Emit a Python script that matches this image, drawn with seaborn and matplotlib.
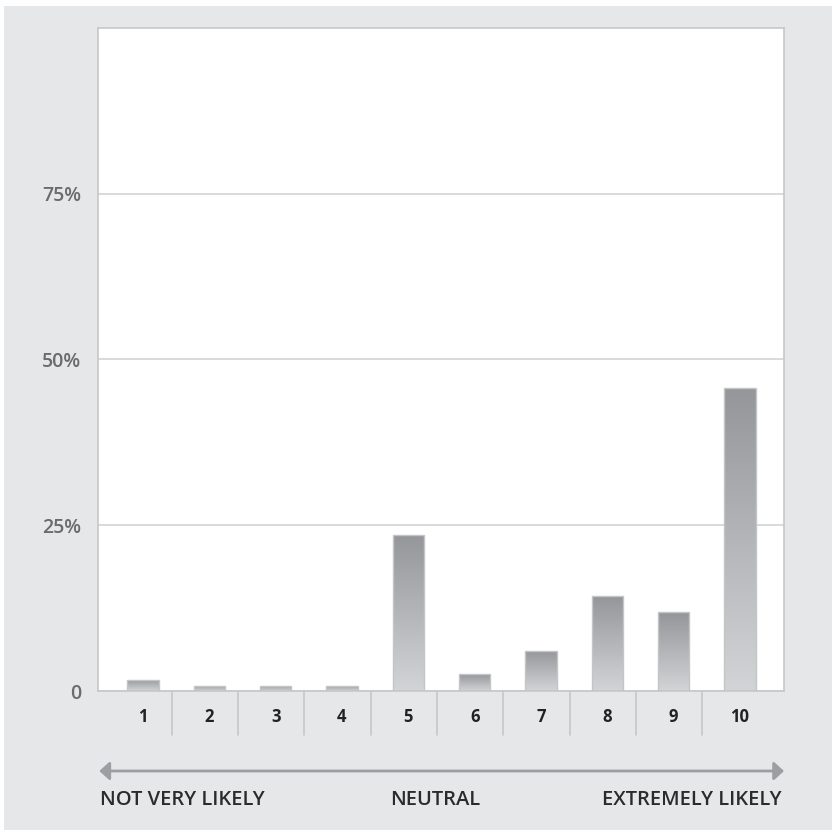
import numpy as np
import pandas as pd
import matplotlib
matplotlib.use("Agg")
import matplotlib.pyplot as plt
from matplotlib.colors import LinearSegmentedColormap
from matplotlib.patches import Rectangle
import seaborn as sns

# ---- data ----
categories = ["1", "2", "3", "4", "5", "6", "7", "8", "9", "10"]
percentages = [1.7, 0.8, 0.8, 0.8, 23.6, 2.5, 6.1, 14.3, 11.9, 45.7]
y_ticks = [0, 25, 50, 75]
y_tick_labels = ["0", "25%", "50%", "75%"]
scale_labels = ["NOT VERY LIKELY", "NEUTRAL", "EXTREMELY LIKELY"]

df = pd.DataFrame({"score": categories, "pct": percentages})

sns.set_theme(style="white")
plt.rcParams["font.family"] = ["Open Sans", "DejaVu Sans"]

W, H = 832, 830
fig = plt.figure(figsize=(W / 100, H / 100), dpi=100, facecolor="white")
fig.patches.append(Rectangle((4 / W, 0), 1, 1 - 6 / H, transform=fig.transFigure,
                             facecolor="#e6e7e9", edgecolor="none", zorder=-10))

ax = fig.add_axes([98 / W, (H - 691) / H, 686 / W, 663 / H])
ax.set_facecolor("white")

sns.barplot(data=df, x="score", y="pct", ax=ax, width=0.47, color="#a0a1a4",
            edgecolor="#c4c5c7", linewidth=1.0, zorder=3)

# gradient fill inside each bar
cmap = LinearSegmentedColormap.from_list("g", ["#d3d4d6", "#95969a"])
grad = np.linspace(0, 1, 256).reshape(-1, 1)
for p in ax.patches:
    x0, y0 = p.get_x(), p.get_y()
    w, h = p.get_width(), p.get_height()
    p.set_facecolor("none")
    im = ax.imshow(grad, cmap=cmap, origin="lower", aspect="auto",
                   extent=[x0, x0 + w, y0, y0 + h], zorder=2.5, interpolation="bilinear")
    im.set_clip_path(p)

ax.set_xlim(-0.678, 9.663)
ax.set_ylim(0, 100)
ax.set_xlabel("")
ax.set_ylabel("")

ax.set_yticks(y_ticks)
ax.set_yticklabels(y_tick_labels)
ax.yaxis.grid(True, color="#d2d3d5", linewidth=1.2, zorder=0)
ax.xaxis.grid(False)
ax.set_axisbelow(True)

ax.tick_params(axis="y", length=0, pad=12, labelsize=14, labelcolor="#6b6b6d")
ax.tick_params(axis="x", length=0, pad=12, labelsize=12, labelcolor="#222224")
for lbl in ax.get_yticklabels():
    lbl.set_fontweight("semibold")
for lbl in ax.get_xticklabels():
    lbl.set_fontweight("bold")

for s in ax.spines.values():
    s.set_color("#c6c7c9")
    s.set_linewidth(1.2)

# separators between category labels
trans = matplotlib.transforms.blended_transform_factory(ax.transData, ax.transAxes)
for k in range(len(categories) - 1):
    ax.plot([k + 0.43, k + 0.43], [0, -44 / 663], transform=trans, color="#c6c7c9",
            lw=1.2, clip_on=False)

# scale arrow
ay = (691 - 771) / 663
ax.annotate("", xy=(1.0, ay), xytext=(0.002, ay), xycoords="axes fraction",
            textcoords="axes fraction", annotation_clip=False,
            arrowprops=dict(arrowstyle="<|-|>,head_length=0.6,head_width=0.55",
                            color="#9d9ea1", lw=2, shrinkA=0, shrinkB=0,
                            mutation_scale=10))

ty = (691 - 800) / 663
ax.text(0.003, ty, scale_labels[0], transform=ax.transAxes, ha="left", va="center",
        fontsize=14.5, color="#2b2b2d", fontweight="semibold")
ax.text(0.491, ty, scale_labels[1], transform=ax.transAxes, ha="center", va="center",
        fontsize=14.5, color="#2b2b2d", fontweight="semibold")
ax.text(0.997, ty, scale_labels[2], transform=ax.transAxes, ha="right", va="center",
        fontsize=14.5, color="#2b2b2d", fontweight="semibold")

fig.savefig("out.png", dpi=100, facecolor=fig.get_facecolor())
